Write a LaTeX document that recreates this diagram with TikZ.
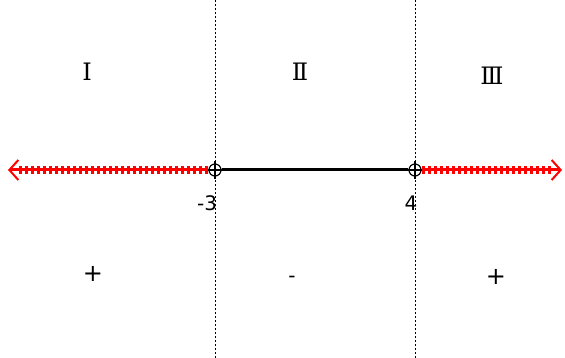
\documentclass[tikz,border=0pt]{standalone}
\usepackage{fontspec}
\setmainfont{DejaVu Sans}
\newfontfamily\romanfont{DejaVu Serif}
\usetikzlibrary{arrows.meta}
\tikzset{
  guide/.style={line width=1pt, dash pattern=on 2pt off 2pt},
  pt/.style={circle, draw, line width=1.2pt, minimum size=12pt, inner sep=0pt},
  ray/.style={red, line width=3pt, -{Straight Barb[length=9pt,width=20pt,line width=2pt]}},
  teeth/.style={red, line width=8pt, dash pattern=on 3pt off 3pt},
  lbl/.style={font=\fontsize{20}{20}\selectfont, inner sep=0pt},
  sign/.style={font=\fontsize{24}{24}\selectfont, inner sep=0pt},
  roman/.style={font=\romanfont\fontsize{24}{24}\selectfont, inner sep=0pt},
}
\begin{document}
\begin{tikzpicture}[x=1pt,y=-1pt]
\useasboundingbox (0,0) rectangle (565,358);
\coordinate (t1) at (215,0); \coordinate (b1) at (215,358);
\coordinate (t2) at (415,0); \coordinate (b2) at (415,358);
\draw[guide] (t1) -- (b1);
\draw[guide] (t2) -- (b2);
\node[pt, fill=white] (m3) at (215,170) {};
\node[pt, fill=white] (p4) at (415,170) {};
\coordinate (L) at (8,170);
\coordinate (R) at (562,170);
\coordinate (Lt) at (18,170);
\coordinate (Rt) at (552,170);
\draw[teeth] (m3.west) -- (Lt);
\draw[teeth] (p4.east) -- (Rt);
\draw[ray] (m3.west) -- (L);
\draw[ray] (p4.east) -- (R);
\draw[line width=3pt] (m3.east) -- (p4.west);
\foreach \n in {m3,p4}{
  \draw[line width=1.2pt] ([yshift=-9pt]\n.center) -- ([yshift=9pt]\n.center);
  \draw[line width=1.2pt] ([xshift=-7pt]\n.center) -- ([xshift=7pt]\n.center);
}
\node[lbl] (lm3) at (207,203) {-3};
\node[lbl] (lp4) at (411,203) {4};
\node[roman] (r1) at (87,72) {Ⅰ};
\node[roman] (r2) at (300,72) {Ⅱ};
\node[roman] (r3) at (492,76) {Ⅲ};
\node[sign] (s1) at (93,274) {+};
\node[lbl] (s2) at (292,279) {-};
\node[sign] (s3) at (496,277) {+};
\end{tikzpicture}
\end{document}
